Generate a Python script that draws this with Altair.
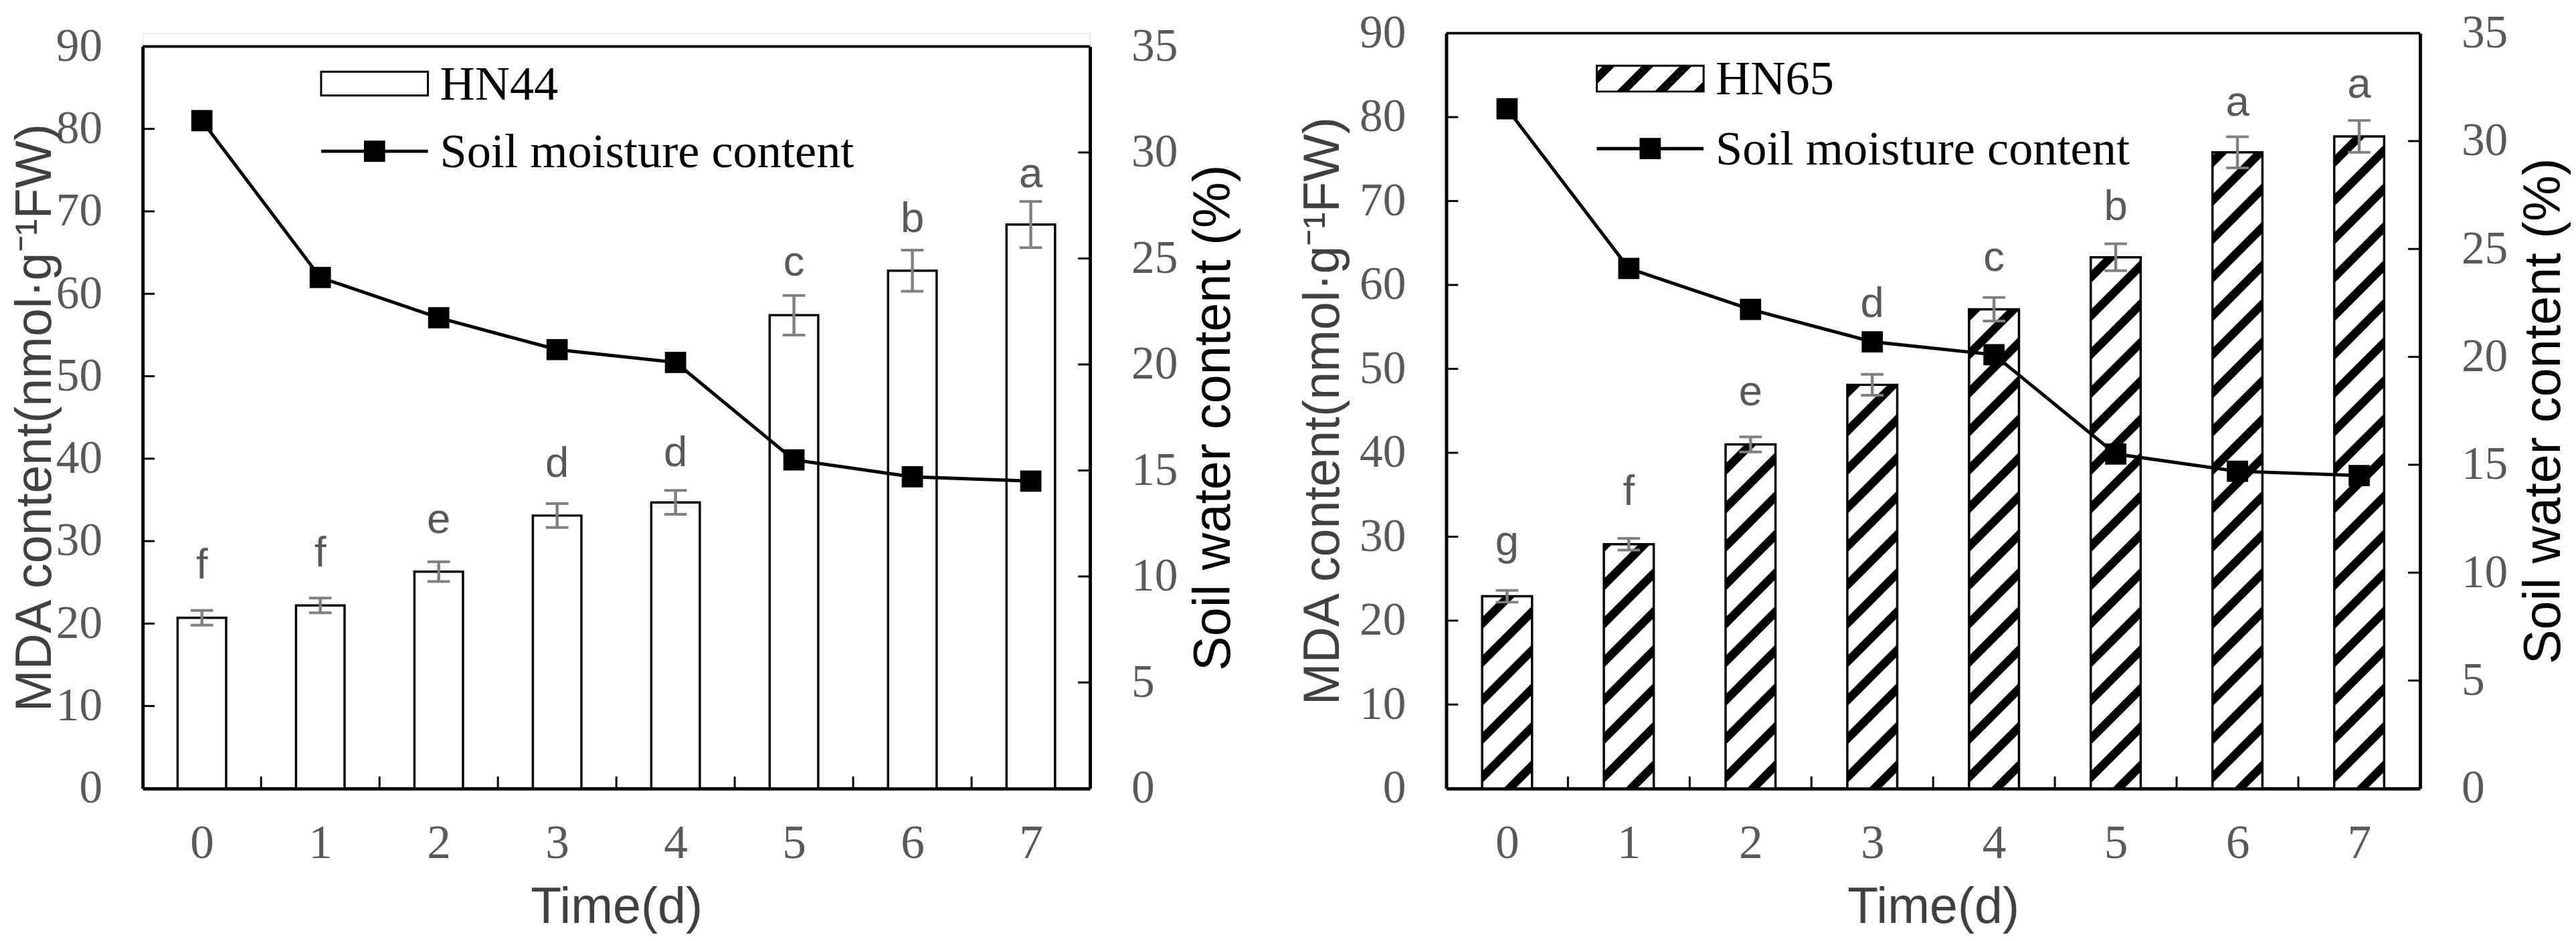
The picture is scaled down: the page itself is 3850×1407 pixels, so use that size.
import altair as alt
import numpy as np
import pandas as pd

# ---------------- data ----------------
DAYS = [0, 1, 2, 3, 4, 5, 6, 7]
HN44_MDA = [20.7, 22.2, 26.3, 33.1, 34.7, 57.4, 62.8, 68.4]
HN44_ERR = [0.9, 0.9, 1.2, 1.45, 1.45, 2.4, 2.5, 2.8]
HN44_LET = ["f", "f", "e", "d", "d", "c", "b", "a"]
HN65_MDA = [22.9, 29.1, 41.0, 48.1, 57.1, 63.3, 75.8, 77.7]
HN65_ERR = [0.7, 0.7, 0.9, 1.25, 1.4, 1.6, 1.85, 1.9]
HN65_LET = ["g", "f", "e", "d", "c", "b", "a", "a"]
SOIL = [31.5, 24.1, 22.2, 20.7, 20.1, 15.5, 14.7, 14.5]
MDA_TICKS = [0, 10, 20, 30, 40, 50, 60, 70, 80, 90]
SWC_TICKS = [0, 5, 10, 15, 20, 25, 30, 35]
X_BOUNDS = [d + 0.5 for d in DAYS[:-1]]

# ---------------- style ----------------
HALF = 0.205          # half bar width in day units
SERIF = "Liberation Serif"
SANS = "Liberation Sans"
TICK_GRAY = "#595959"
TITLE_GRAY = "#404040"
ERR_GRAY = "#808080"
PERIOD, BLACK = 58.0, 18.0
LIFT_44 = [48, 48, 43, 40, 37, 30, 27, 21]   # letter gap above error bar (px)
LIFT_65 = [53, 50, 48, 86, 40, 36, 32, 34]


def hatch_rows(name, mda, W, PH):
    kx, ky = W / 8.0, PH / 90.0
    rows = []
    sid = 0
    for t, v in zip(DAYS, mda):
        bw = 2 * HALF * kx
        top = v * ky
        i0 = int(np.floor(-bw / PERIOD)) - 1
        i1 = int(np.ceil(top / PERIOD)) + 1
        for i in range(i0, i1 + 1):
            c = i * PERIOD + 8.0
            xs = {0.0, bw}
            for cc in (c, c + BLACK):
                for lim in (0.0, top):
                    xb = lim - cc
                    if 0 < xb < bw:
                        xs.add(xb)
            xs = sorted(xs)
            lo = [min(max(x + c, 0.0), top) for x in xs]
            hi = [min(max(x + c + BLACK, 0.0), top) for x in xs]
            if max(h - l for h, l in zip(hi, lo)) < 1e-6:
                continue
            for x, l, h in zip(xs, lo, hi):
                rows.append(dict(sid=f"{name}_{sid}", hx=t - HALF + x / kx, h1=l / ky, h2=h / ky))
            sid += 1
    return pd.DataFrame(rows)


def hatch_gradient(bw, bh):
    tot = bw + bh
    stops = [("white", 0.0)]
    s = 10.0 - PERIOD
    while s < tot:
        a = max(s, 0.0) / tot
        b = min(s + BLACK, tot) / tot
        if s + BLACK > 0:
            stops += [("white", a), ("black", a), ("black", b), ("white", b)]
        s += PERIOD
    stops.append(("white", 1.0))
    k = tot / (bw * bw + bh * bh)
    return alt.LinearGradient(
        gradient="linear",
        stops=[alt.GradientStop(color=c, offset=float(o)) for c, o in stops],
        x1=0, y1=0, x2=k * bw, y2=k * bh,
    )


def panel(name, mda, err, letters, lift, hatched, W, H, top_off, leg, ytitle_pad):
    PH = H - top_off
    df = pd.DataFrame({"t": DAYS, "mda": mda, "err": err, "let": letters, "soil": SOIL})
    df["lo"] = df["mda"] - df["err"]
    df["hi"] = df["mda"] + df["err"]
    df["ly"] = df["hi"] + np.array(lift) * 90.0 / PH
    df["xl"] = df["t"] - HALF
    df["xr"] = df["t"] + HALF

    XS = alt.Scale(domain=[-0.5, 7.5], nice=False, zero=False)
    AX = alt.Axis(values=DAYS, ticks=False, tickSize=0, grid=False, labelFlush=False,
                  domainColor="black", domainWidth=5,
                  labelFont=SERIF, labelFontSize=72, labelColor=TICK_GRAY, labelPadding=47,
                  title="Time(d)", titleFont=SANS, titleFontSize=76, titleFontWeight="normal",
                  titleColor=TITLE_GRAY, titlePadding=24)
    YLS = alt.Scale(domain=[0, 90], nice=False, zero=True, range=[H, top_off])
    AYL = alt.Axis(values=MDA_TICKS, ticks=False, tickSize=0, grid=False,
                   domainColor="black", domainWidth=5,
                   labelFont=SERIF, labelFontSize=70, labelColor=TICK_GRAY, labelPadding=61,
                   title="MDA content(nmol·g⁻¹FW)", titleFont=SANS, titleFontSize=76,
                   titleFontWeight="normal", titleColor=TITLE_GRAY, titlePadding=ytitle_pad)
    YRS = alt.Scale(domain=[0, 35], nice=False, zero=True, range=[H, top_off])
    AYR = alt.Axis(values=SWC_TICKS, orient="right", ticks=False, tickSize=0, grid=False,
                   domainColor="black", domainWidth=5,
                   labelFont=SERIF, labelFontSize=70, labelColor=TICK_GRAY, labelPadding=62,
                   title="Soil water content (%)", titleFont=SANS, titleFontSize=78,
                   titleFontWeight="normal", titleColor="black", titlePadding=16,
                   titleAngle=270, titleBaseline="top")

    def X(f):
        return alt.X(f, type="quantitative", scale=XS, axis=AX)

    def YL(f):
        return alt.Y(f, type="quantitative", scale=YLS, axis=AYL)

    def YR(f):
        return alt.Y(f, type="quantitative", scale=YRS, axis=AYR)

    base = alt.Chart(df)
    one = alt.Chart(pd.DataFrame({"k": [0]}))

    frame_top = alt.Chart(pd.DataFrame({"v": [MDA_TICKS[-1]]})).mark_rule(
        color="black", strokeWidth=4).encode(y=YL("v"), x=alt.value(0), x2=alt.value(W))
    ytick_l = alt.Chart(pd.DataFrame({"v": MDA_TICKS[1:-1]})).mark_rule(
        color="black", strokeWidth=3).encode(y=YL("v"), x=alt.value(0), x2=alt.value(18))
    xtick = alt.Chart(pd.DataFrame({"b": X_BOUNDS})).mark_rule(
        color="black", strokeWidth=3).encode(x=X("b"), y=alt.value(H), y2=alt.value(H - 18))

    bars_fill = base.mark_rect(fill="white", stroke=None).encode(
        x=X("xl"), x2="xr", y=YL("mda"), y2=alt.datum(0))
    layers_l = [frame_top, ytick_l, xtick, bars_fill]
    if hatched:
        hd = hatch_rows(name, mda, W, PH)
        hatch = alt.Chart(hd).mark_area(color="black", interpolate="linear").encode(
            x=X("hx"), y=YL("h1"), y2="h2", detail="sid:N")
        layers_l.append(hatch)
    bars_out = base.mark_rect(fillOpacity=0, stroke="black", strokeWidth=3.5).encode(
        x=X("xl"), x2="xr", y=YL("mda"), y2=alt.datum(0))
    err_rule = base.mark_rule(color=ERR_GRAY, strokeWidth=4.5).encode(
        x=X("t"), y=YL("lo"), y2="hi")
    cap_lo = base.mark_tick(orient="horizontal", color=ERR_GRAY, size=34, thickness=4,
                            opacity=1).encode(x=X("t"), y=YL("lo"))
    cap_hi = base.mark_tick(orient="horizontal", color=ERR_GRAY, size=34, thickness=4,
                            opacity=1).encode(x=X("t"), y=YL("hi"))
    lets = base.mark_text(font=SANS, fontSize=64, color=TICK_GRAY,
                          baseline="alphabetic").encode(x=X("t"), y=YL("ly"), text="let:N")
    layers_l += [bars_out, err_rule, cap_lo, cap_hi, lets]

    # legend (drawn inside the plot)
    bx0, bx1, by0, by1 = leg["box"]
    box_fill = hatch_gradient(bx1 - bx0, by1 - by0) if hatched else "white"
    leg_box = one.mark_rect(fill=box_fill, stroke="black", strokeWidth=3).encode(
        x=alt.value(bx0), x2=alt.value(bx1), y=alt.value(by0), y2=alt.value(by1))
    leg_t1 = one.mark_text(text=name, font=SERIF, fontSize=73, color="black",
                           align="left", baseline="middle").encode(
        x=alt.value(leg["tx"]), y=alt.value((by0 + by1) / 2 + 2))
    leg_line = one.mark_rule(color="black", strokeWidth=5).encode(
        x=alt.value(bx0), x2=alt.value(bx1), y=alt.value(leg["ly"]))
    leg_sq = one.mark_square(size=1024, color="black", opacity=1).encode(
        x=alt.value((bx0 + bx1) / 2), y=alt.value(leg["ly"]))
    leg_t2 = one.mark_text(text="Soil moisture content", font=SERIF, fontSize=73,
                           color="black", align="left", baseline="middle").encode(
        x=alt.value(leg["tx"]), y=alt.value(leg["ly"] + 2))
    layers_l += [leg_box, leg_t1, leg_line, leg_sq, leg_t2]

    left_group = alt.layer(*layers_l)

    line = base.mark_line(color="black", strokeWidth=5).encode(x=X("t"), y=YR("soil"))
    pts = base.mark_square(size=1024, color="black", opacity=1).encode(x=X("t"), y=YR("soil"))
    ytick_r = alt.Chart(pd.DataFrame({"v": SWC_TICKS[1:-1]})).mark_rule(
        color="black", strokeWidth=3).encode(y=YR("v"), x=alt.value(W - 18), x2=alt.value(W))
    right_group = alt.layer(ytick_r, line, pts)

    return alt.layer(left_group, right_group).resolve_scale(y="independent").properties(
        width=W, height=H)


p1 = panel("HN44", HN44_MDA, HN44_ERR, HN44_LET, LIFT_44, False, 1428, 1139, 20,
           dict(box=(269, 430, 58, 94), tx=448, ly=178), -8)
p2 = panel("HN65", HN65_MDA, HN65_ERR, HN65_LET, LIFT_65, True, 1468, 1139, 0,
           dict(box=(227, 388, 49, 88), tx=406, ly=174), 15)

chart = alt.hconcat(p1, p2, spacing=86).properties(
    padding={"left": 6, "top": 0, "right": 0, "bottom": 0}
).configure_view(strokeWidth=0).configure(background="white")

chart.save("out.html", embed_options={"renderer": "svg", "actions": False})
